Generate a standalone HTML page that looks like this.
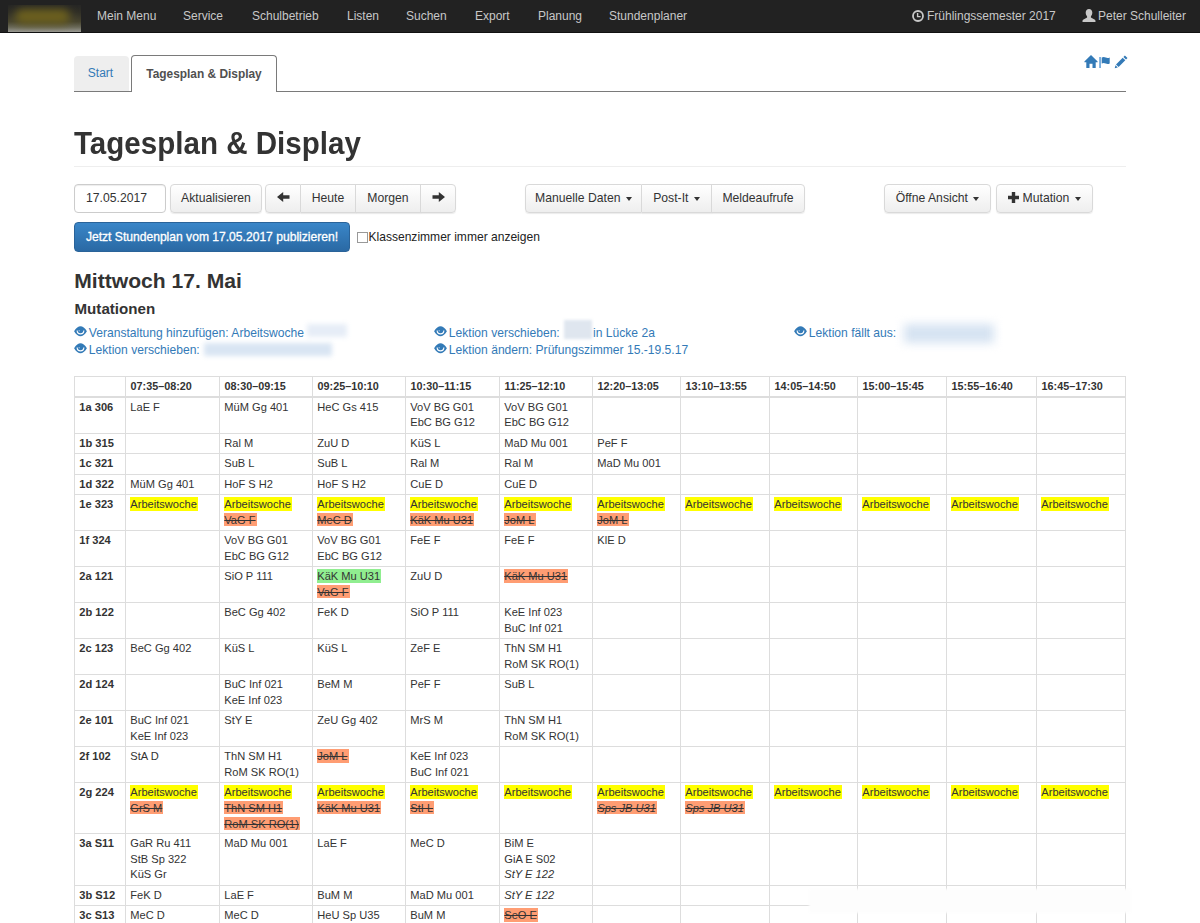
<!DOCTYPE html>
<html><head><meta charset="utf-8"><title>Tagesplan &amp; Display</title>
<style>
*{box-sizing:border-box}
html,body{margin:0;padding:0}
body{width:1200px;height:923px;overflow:hidden;background:#fff;font-family:"Liberation Sans",sans-serif;font-size:12px;color:#333;position:relative}
.a{position:absolute;white-space:nowrap}
#nav{position:absolute;left:0;top:0;width:1200px;height:33px;background:#222;border-bottom:1px solid #111}
#nav .a{top:0;line-height:33px;color:#c8c8c8;font-size:12px}
#logo{position:absolute;left:7.500px;top:4.500px;width:73.500px;height:27.500px;overflow:hidden;background:linear-gradient(#262625 0%,#2f2e26 25%,#47442f 62%,#6a6958 82%,#9a9a94 100%)}
#logo i{position:absolute;left:7px;top:4px;width:55px;height:15px;background:#6c601e;border-radius:8px;filter:blur(4.500px)}
#tabline{position:absolute;left:74px;top:91px;width:1052px;height:1px;background:#7a7a7a}
#t1{left:74px;top:55.500px;width:55px;height:35.500px;padding-right:2px;background:#eee;border-radius:4px 4px 0 0;color:#337ab7;line-height:35px;text-align:center}
#t2{left:131px;top:55px;width:146px;height:37px;background:#fff;border:1px solid #7a7a7a;border-bottom:0;border-radius:4px 4px 0 0;font-weight:bold;color:#505050;line-height:37px;text-align:center;font-size:11.9px}
h1{position:absolute;left:73.500px;top:123.600px;margin:0;font-size:30.600px;transform:scaleX(.966);transform-origin:0 0;line-height:38px;font-weight:bold;color:#333;white-space:nowrap}
#hr{position:absolute;left:74px;top:166px;width:1052px;height:1px;background:#eee}
.btn{position:absolute;top:184px;height:29px;border:1px solid #d9d9d9;background:linear-gradient(#fff,#eee);border-radius:4px;font-size:12.200px;line-height:27px;text-align:center;color:#333;white-space:nowrap;box-shadow:0 1px 1px rgba(0,0,0,.08)}
.inp{background:#fff;box-shadow:inset 0 1px 1px rgba(0,0,0,.075);text-align:left;padding-left:11px;border-color:#ccc}
.caret{display:inline-block;width:0;height:0;border-top:4px solid #333;border-left:3.5px solid transparent;border-right:3.5px solid transparent;vertical-align:middle;margin-left:2px;position:relative;top:0}
.btn svg{vertical-align:middle;position:relative;top:-1.500px}
#pub{position:absolute;left:74px;top:222px;width:276px;height:30px;background:linear-gradient(#3a86c8,#2a69a4);border:1px solid #2a6399;border-radius:4px;color:#fff;font-size:12.100px;line-height:28px;text-align:center;white-space:nowrap;-webkit-text-stroke:.3px #fff}
#cb{position:absolute;left:357px;top:232px;width:11px;height:11px;border:1px solid #999;background:#fff}
#cbl{left:368.500px;top:229px;font-size:12.050px;line-height:16px;color:#222}
h2{position:absolute;left:74.300px;top:268.600px;margin:0;font-size:21.100px;line-height:24px;font-weight:bold;white-space:nowrap}
h3{position:absolute;left:74.500px;top:299.600px;margin:0;font-size:15.150px;line-height:18px;font-weight:bold;white-space:nowrap}
.mut{font-size:12.100px;line-height:17px;color:#337ab7}
.blur{position:absolute;background:#dbe6f3;filter:blur(2.5px)}
table{position:absolute;left:74px;top:376px;width:1051px;border-collapse:collapse;table-layout:fixed;font-size:11.100px;line-height:15.600px}
td,th{border:1px solid #ddd;padding:2px 0 0 4.300px;vertical-align:top;text-align:left;font-weight:normal;white-space:nowrap;overflow:hidden}
th{font-weight:bold;border-bottom:2px solid #ddd;font-size:10.800px;padding-left:4.600px}
td:first-child{font-weight:bold;font-size:11.100px;padding-left:4.300px}
.y,.r,.g{padding:.6px 1px .6px 0}
.y{background:#ff0}
.r{background:#ff9d73;text-decoration:line-through}
.g{background:#90ee90}
</style></head><body>
<div id="nav">
<div id="logo"><i></i></div>
<div class="a" style="left:97px">Mein Menu</div>
<div class="a" style="left:183px">Service</div>
<div class="a" style="left:252px">Schulbetrieb</div>
<div class="a" style="left:347px">Listen</div>
<div class="a" style="left:406px">Suchen</div>
<div class="a" style="left:475px">Export</div>
<div class="a" style="left:538px">Planung</div>
<div class="a" style="left:609px">Stundenplaner</div>
<div class="a" style="left:927px">Frühlingssemester 2017</div>
<div class="a" style="left:1098px">Peter Schulleiter</div>
<svg class="a" style="left:912px;top:9.500px" width="12" height="12" viewBox="0 0 12 12"><circle cx="6" cy="6" r="5" fill="none" stroke="#c8c8c8" stroke-width="1.8"/><path d="M5.6 3v3.6h3" fill="none" stroke="#c8c8c8" stroke-width="1.4"/></svg>
<svg class="a" style="left:1082px;top:8.500px" width="14" height="13" viewBox="0 0 14 13"><path d="M7 0c2 0 3.3 1.5 3.3 3.6 0 1.7-.6 3-1.4 3.8v1.1l4 2.2c.5.3.6.8.6 2.3H.5c0-1.500.1-2 .6-2.300l4-2.200V7.400C4.300 6.600 3.700 5.300 3.700 3.600 3.700 1.500 5 0 7 0z" fill="#c8c8c8"/></svg>
</div>
<div id="tabline"></div><div class="a" id="t1">Start</div><div class="a" id="t2">Tagesplan &amp; Display</div>
<svg class="a" style="left:1083.500px;top:55.250px" width="14" height="13" viewBox="0 0 14 13"><path d="M7 0l6.600 6.600v.6h-1.900V13H8.500V8.800h-3V13H2.300V7.200H.4v-.6z" fill="#337ab7"/></svg>
<svg class="a" style="left:1099px;top:56px" width="12" height="13" viewBox="0 0 12 13"><rect x=".3" y="1" width="1.5" height="11" fill="#5b9bd5"/><path d="M2.700 1.500c1.500-.8 2.700-.6 4 0s2.500.8 4-.1v6c-1.500.9-2.700.7-4 .1s-2.500-.8-4 0z" fill="#337ab7"/></svg>
<svg class="a" style="left:1113.500px;top:55px" width="14" height="14" viewBox="0 0 14 14"><path d="M10.900.5l2.600 2.600-1.500 1.500-2.600-2.600zM8.700 2.700l2.600 2.600-6.700 6.700-2.600-2.600zM1.500 10.200l2.300 2.300L.7 13.300z" fill="#337ab7"/></svg>
<h1>Tagesplan &amp; Display</h1><div id="hr"></div>
<div class="btn inp" style="left:74px;width:92px;">17.05.2017</div>
<div class="btn " style="left:170px;width:92px;">Aktualisieren</div>
<div class="btn " style="left:265px;width:36px;border-radius:4px 0 0 4px"><svg width="13" height="10" viewBox="0 0 13 10"><path d="M0 5L6.200 0v3.300H12.500v3.400H6.200V10z" fill="#333"/></svg></div>
<div class="btn " style="left:300px;width:56px;border-radius:0;clip-path:inset(-1px -1px -3px 1px)">Heute</div>
<div class="btn " style="left:355px;width:66px;border-radius:0;clip-path:inset(-1px -1px -3px 1px)">Morgen</div>
<div class="btn " style="left:420px;width:36px;border-radius:0 4px 4px 0;clip-path:inset(-1px -1px -3px 1px)"><svg width="13" height="10" viewBox="0 0 13 10"><path d="M13 5L6.800 0v3.300H.5v3.400h6.300V10z" fill="#333"/></svg></div>
<div class="btn " style="left:525px;width:117px;border-radius:4px 0 0 4px">Manuelle Daten <i class="caret"></i></div>
<div class="btn " style="left:641px;width:71px;border-radius:0;clip-path:inset(-1px -1px -3px 1px)">Post-It <i class="caret"></i></div>
<div class="btn " style="left:711px;width:94px;border-radius:0 4px 4px 0;clip-path:inset(-1px -1px -3px 1px)">Meldeaufrufe</div>
<div class="btn " style="left:884px;width:107px;">Öffne Ansicht <i class="caret"></i></div>
<div class="btn " style="left:996px;width:97px;"><svg width="11" height="11" viewBox="0 0 11 11"><path d="M3.800 0h3.400v3.800H11v3.400H7.200V11H3.800V7.200H0V3.800h3.800z" fill="#333"/></svg> Mutation <i class="caret"></i></div>
<div id="pub">Jetzt Stundenplan vom 17.05.2017 publizieren!</div><div id="cb"></div><div class="a" id="cbl">Klassenzimmer immer anzeigen</div>
<h2>Mittwoch 17. Mai</h2><h3>Mutationen</h3>
<svg class="a" style="left:73.8px;top:326.3px" width="13" height="10.500" viewBox="0 0 13 10.500"><path d="M.1 5.300C2 1.500 4.500.2 6.500.2S11 1.500 12.900 5.300C11 8.900 8.500 10.300 6.500 10.300S2 8.900.1 5.300zM2.600 4.500A3.900 3.900 0 0 0 10.400 4.500L9.300 4.500A2.800 2.800 0 0 1 3.700 4.500z" fill="#337ab7" fill-rule="evenodd"/><circle cx="5.200" cy="4.700" r=".7" fill="#9cc0e2"/></svg>
<div class="a mut" style="left:88.8px;top:324.5px">Veranstaltung hinzufügen: Arbeitswoche</div>
<svg class="a" style="left:73.8px;top:343.3px" width="13" height="10.500" viewBox="0 0 13 10.500"><path d="M.1 5.300C2 1.500 4.500.2 6.500.2S11 1.500 12.900 5.300C11 8.900 8.500 10.300 6.500 10.300S2 8.900.1 5.300zM2.600 4.500A3.900 3.900 0 0 0 10.400 4.500L9.300 4.500A2.800 2.800 0 0 1 3.700 4.500z" fill="#337ab7" fill-rule="evenodd"/><circle cx="5.200" cy="4.700" r=".7" fill="#9cc0e2"/></svg>
<div class="a mut" style="left:88.8px;top:341.5px">Lektion verschieben:</div>
<svg class="a" style="left:433.8px;top:326.3px" width="13" height="10.500" viewBox="0 0 13 10.500"><path d="M.1 5.300C2 1.500 4.500.2 6.500.2S11 1.500 12.900 5.300C11 8.900 8.500 10.300 6.500 10.300S2 8.900.1 5.300zM2.600 4.500A3.900 3.900 0 0 0 10.400 4.500L9.300 4.500A2.800 2.800 0 0 1 3.700 4.500z" fill="#337ab7" fill-rule="evenodd"/><circle cx="5.200" cy="4.700" r=".7" fill="#9cc0e2"/></svg>
<div class="a mut" style="left:448.8px;top:324.5px">Lektion verschieben:</div>
<svg class="a" style="left:433.8px;top:343.3px" width="13" height="10.500" viewBox="0 0 13 10.500"><path d="M.1 5.300C2 1.500 4.500.2 6.500.2S11 1.500 12.900 5.300C11 8.900 8.500 10.300 6.500 10.300S2 8.900.1 5.300zM2.600 4.500A3.900 3.900 0 0 0 10.400 4.500L9.300 4.500A2.800 2.800 0 0 1 3.700 4.500z" fill="#337ab7" fill-rule="evenodd"/><circle cx="5.200" cy="4.700" r=".7" fill="#9cc0e2"/></svg>
<div class="a mut" style="left:448.8px;top:341.5px">Lektion ändern: Prüfungszimmer 15.-19.5.17</div>
<svg class="a" style="left:793.8px;top:326.3px" width="13" height="10.500" viewBox="0 0 13 10.500"><path d="M.1 5.300C2 1.500 4.500.2 6.500.2S11 1.500 12.900 5.300C11 8.900 8.500 10.300 6.500 10.300S2 8.900.1 5.300zM2.600 4.500A3.900 3.900 0 0 0 10.400 4.500L9.300 4.500A2.800 2.800 0 0 1 3.700 4.500z" fill="#337ab7" fill-rule="evenodd"/><circle cx="5.200" cy="4.700" r=".7" fill="#9cc0e2"/></svg>
<div class="a mut" style="left:808.8px;top:324.5px">Lektion fällt aus:</div>
<div class="a mut" style="left:593px;top:324.500px">in Lücke 2a</div>
<div class="blur" style="left:307px;top:324px;width:40px;height:13px;background:#e6edf7"></div>
<div class="blur" style="left:204px;top:343px;width:128px;height:13px;background:#d9e5f3"></div>
<div class="blur" style="left:564px;top:320px;width:28px;height:19px;background:#dfe6ef;filter:blur(1.500px)"></div>
<div class="blur" style="left:904px;top:324px;width:90px;height:19px;background:#d6e3f2;filter:blur(5px)"></div>
<table><colgroup><col style="width:51px"><col style="width:94px"><col style="width:93px"><col style="width:93px"><col style="width:94px"><col style="width:93px"><col style="width:88px"><col style="width:89px"><col style="width:88px"><col style="width:89px"><col style="width:90px"><col style="width:89px"></colgroup>
<tr style="height:20px"><th></th><th>07:35–08:20</th><th>08:30–09:15</th><th>09:25–10:10</th><th>10:30–11:15</th><th>11:25–12:10</th><th>12:20–13:05</th><th>13:10–13:55</th><th>14:05–14:50</th><th>15:00–15:45</th><th>15:55–16:40</th><th>16:45–17:30</th></tr>
<tr style="height:37px"><td>1a 306</td><td>LaE F</td><td>MüM Gg 401</td><td>HeC Gs 415</td><td>VoV BG G01<br>EbC BG G12</td><td>VoV BG G01<br>EbC BG G12</td><td></td><td></td><td></td><td></td><td></td><td></td></tr>
<tr style="height:20px"><td>1b 315</td><td></td><td>Ral M</td><td>ZuU D</td><td>KüS L</td><td>MaD Mu 001</td><td>PeF F</td><td></td><td></td><td></td><td></td><td></td></tr>
<tr style="height:21px"><td>1c 321</td><td></td><td>SuB L</td><td>SuB L</td><td>Ral M</td><td>Ral M</td><td>MaD Mu 001</td><td></td><td></td><td></td><td></td><td></td></tr>
<tr style="height:20px"><td>1d 322</td><td>MüM Gg 401</td><td>HoF S H2</td><td>HoF S H2</td><td>CuE D</td><td>CuE D</td><td></td><td></td><td></td><td></td><td></td><td></td></tr>
<tr style="height:36px"><td>1e 323</td><td><span class="y">Arbeitswoche</span></td><td><span class="y">Arbeitswoche</span><br><span class="r">VaG F</span></td><td><span class="y">Arbeitswoche</span><br><span class="r">MeC D</span></td><td><span class="y">Arbeitswoche</span><br><span class="r">KäK Mu U31</span></td><td><span class="y">Arbeitswoche</span><br><span class="r">JoM L</span></td><td><span class="y">Arbeitswoche</span><br><span class="r">JoM L</span></td><td><span class="y">Arbeitswoche</span></td><td><span class="y">Arbeitswoche</span></td><td><span class="y">Arbeitswoche</span></td><td><span class="y">Arbeitswoche</span></td><td><span class="y">Arbeitswoche</span></td></tr>
<tr style="height:36px"><td>1f 324</td><td></td><td>VoV BG G01<br>EbC BG G12</td><td>VoV BG G01<br>EbC BG G12</td><td>FeE F</td><td>FeE F</td><td>KlE D</td><td></td><td></td><td></td><td></td><td></td></tr>
<tr style="height:36px"><td>2a 121</td><td></td><td>SiO P 111</td><td><span class="g">KäK Mu U31</span><br><span class="r">VaG F</span></td><td>ZuU D</td><td><span class="r">KäK Mu U31</span></td><td></td><td></td><td></td><td></td><td></td><td></td></tr>
<tr style="height:36px"><td>2b 122</td><td></td><td>BeC Gg 402</td><td>FeK D</td><td>SiO P 111</td><td>KeE Inf 023<br>BuC Inf 021</td><td></td><td></td><td></td><td></td><td></td><td></td></tr>
<tr style="height:36px"><td>2c 123</td><td>BeC Gg 402</td><td>KüS L</td><td>KüS L</td><td>ZeF E</td><td>ThN SM H1<br>RoM SK RO(1)</td><td></td><td></td><td></td><td></td><td></td><td></td></tr>
<tr style="height:36px"><td>2d 124</td><td></td><td>BuC Inf 021<br>KeE Inf 023</td><td>BeM M</td><td>PeF F</td><td>SuB L</td><td></td><td></td><td></td><td></td><td></td><td></td></tr>
<tr style="height:36px"><td>2e 101</td><td>BuC Inf 021<br>KeE Inf 023</td><td>StY E</td><td>ZeU Gg 402</td><td>MrS M</td><td>ThN SM H1<br>RoM SK RO(1)</td><td></td><td></td><td></td><td></td><td></td><td></td></tr>
<tr style="height:36px"><td>2f 102</td><td>StA D</td><td>ThN SM H1<br>RoM SK RO(1)</td><td><span class="r">JoM L</span></td><td>KeE Inf 023<br>BuC Inf 021</td><td></td><td></td><td></td><td></td><td></td><td></td><td></td></tr>
<tr style="height:51px"><td>2g 224</td><td><span class="y">Arbeitswoche</span><br><span class="r">GrS M</span></td><td><span class="y">Arbeitswoche</span><br><span class="r">ThN SM H1</span><br><span class="r">RoM SK RO(1)</span></td><td><span class="y">Arbeitswoche</span><br><span class="r">KäK Mu U31</span></td><td><span class="y">Arbeitswoche</span><br><span class="r">StI L</span></td><td><span class="y">Arbeitswoche</span></td><td><span class="y">Arbeitswoche</span><br><i><span class="r">Sps JB U31</span></i></td><td><span class="y">Arbeitswoche</span><br><i><span class="r">Sps JB U31</span></i></td><td><span class="y">Arbeitswoche</span></td><td><span class="y">Arbeitswoche</span></td><td><span class="y">Arbeitswoche</span></td><td><span class="y">Arbeitswoche</span></td></tr>
<tr style="height:52px"><td>3a S11</td><td>GaR Ru 411<br>StB Sp 322<br>KüS Gr</td><td>MaD Mu 001</td><td>LaE F</td><td>MeC D</td><td>BiM E<br>GiA E S02<br><i>StY E 122</i></td><td></td><td></td><td></td><td></td><td></td><td></td></tr>
<tr style="height:20px"><td>3b S12</td><td>FeK D</td><td>LaE F</td><td>BuM M</td><td>MaD Mu 001</td><td><i>StY E 122</i></td><td></td><td></td><td></td><td></td><td></td><td></td></tr>
<tr style="height:21px"><td>3c S13</td><td>MeC D</td><td>MeC D</td><td>HeU Sp U35</td><td>BuM M</td><td><span class="r">SeO E</span></td><td></td><td></td><td></td><td></td><td></td><td></td></tr>
</table>
<div class="a" style="left:809px;top:889px;width:322px;height:24px;background:#fdfdfd;filter:blur(1px)"></div>
</body></html>
